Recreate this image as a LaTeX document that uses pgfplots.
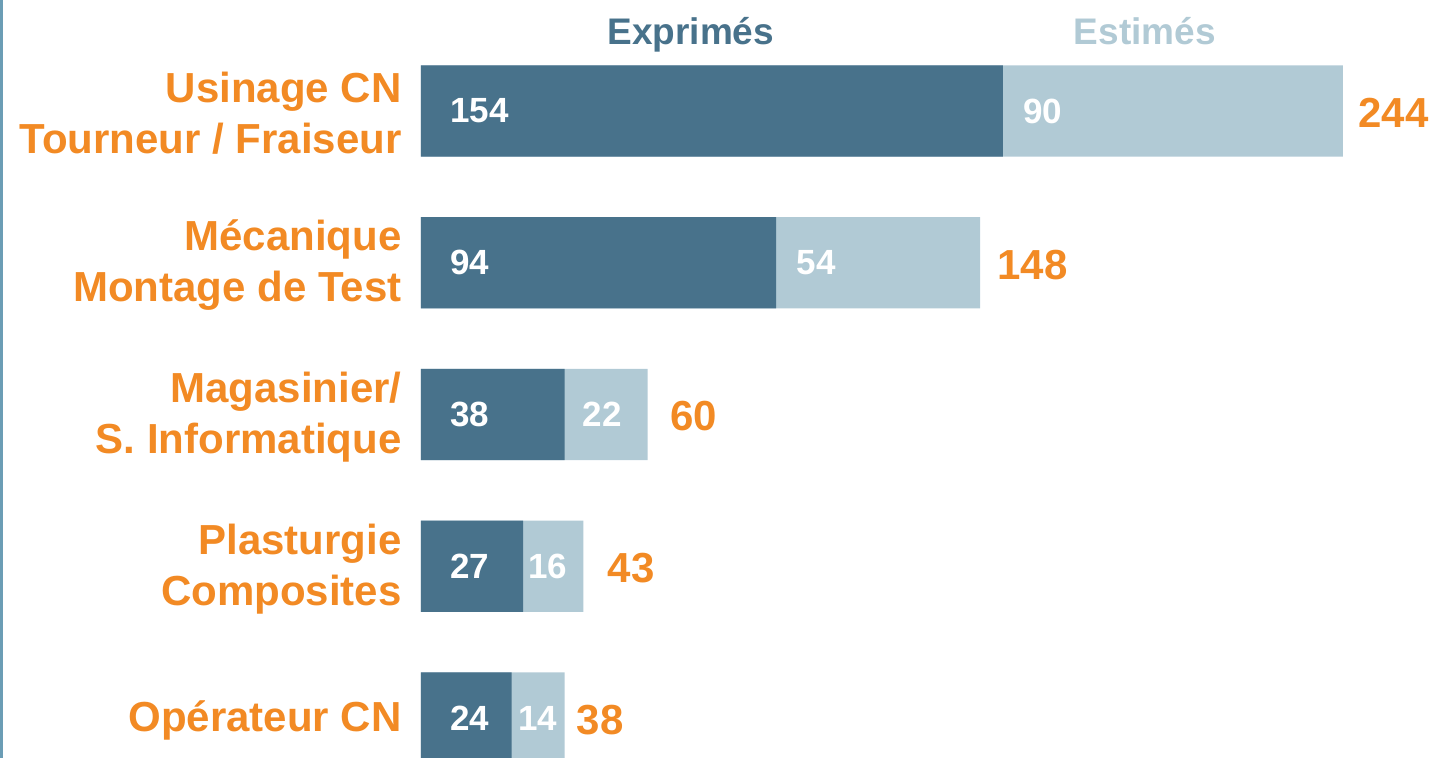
\documentclass[border=0pt]{standalone}
\usepackage{fontspec}
\setmainfont{Liberation Sans}
\usepackage{pgfplots}
\usepackage{pgfplotstable}
\pgfplotsset{compat=1.18}
\definecolor{darkbar}{HTML}{48728B}
\definecolor{lightbar}{HTML}{B1CAD5}
\definecolor{orangetxt}{HTML}{F28A24}
\definecolor{leftline}{HTML}{6B9DB5}
\pgfplotstableread{
y expr est tot dx tdx
0 154 90 244 10 7.5
1 94 54 148 10 8.5
2 38 22 60 9 11
3 27 16 43 2.5 12
4 24 14 38 3 6
}\datatable
\begin{document}
\begin{tikzpicture}
\begin{axis}[
  scale only axis,
  width=506.5pt, height=379pt,
  xmin=0, xmax=268.1,
  ymin=-0.7315, ymax=4.2636,
  y dir=reverse,
  axis line style={draw=none},
  tick style={draw=none},
  major tick length=0pt,
  xtick=\empty,
  ytick={0,1,2,3,4},
  yticklabels={{Usinage CN\\Tourneur / Fraiseur},{Mécanique\\Montage de Test},{Magasinier/\\S. Informatique},{Plasturgie\\Composites},{Opérateur CN}},
  yticklabel style={align=right, anchor=east, inner sep=0pt, xshift=-9.5pt, yshift=-1.2pt,
    text=orangetxt, font=\fontsize{21pt}{25.5pt}\selectfont\bfseries},
]
\addplot[xbar, bar width=0.6, bar shift=0pt, fill=lightbar, draw=none,
  nodes near coords, point meta=explicit symbolic,
  visualization depends on={\thisrow{tdx} \as \tdxv},
  nodes near coords style={anchor=west, inner sep=0pt, xshift=\tdxv pt, yshift=-1pt, text=orangetxt,
    font=\fontsize{21pt}{24pt}\selectfont\bfseries}]
  table[x=tot, y=y, meta=tot] {\datatable};
\addplot[xbar, bar width=0.6, bar shift=0pt, fill=darkbar, draw=none]
  table[x=expr, y=y] {\datatable};
% labels in dark segments
\addplot[draw=none, mark=none, nodes near coords, point meta=explicit symbolic,
  nodes near coords style={anchor=west, inner sep=0pt, xshift=14.5pt, text=white,
    font=\fontsize{17.5pt}{20pt}\selectfont\bfseries}]
  table[x expr=0, y=y, meta=expr] {\datatable};
% labels in light segments
\addplot[draw=none, mark=none, nodes near coords, point meta=explicit symbolic,
  visualization depends on={\thisrow{dx} \as \dxv},
  nodes near coords style={anchor=west, inner sep=0pt, xshift=\dxv pt, text=white,
    font=\fontsize{17.5pt}{20pt}\selectfont\bfseries}]
  table[x=expr, y=y, meta=est] {\datatable};
\node[anchor=base, inner sep=0pt, text=darkbar, font=\fontsize{18.5pt}{20pt}\selectfont\bfseries] at (axis cs:71.4,-0.435) {Exprimés};
\node[anchor=base, inner sep=0pt, text=lightbar, font=\fontsize{18.5pt}{20pt}\selectfont\bfseries] at (axis cs:191.6,-0.435) {Estimés};
\end{axis}
\pgfresetboundingbox
\path[use as bounding box] ([xshift=-210.5pt]current axis.south west) rectangle (current axis.north east);
\fill[leftline] ([xshift=-210.5pt]current axis.south west) rectangle ([xshift=-209pt]current axis.north west);
\end{tikzpicture}
\end{document}
